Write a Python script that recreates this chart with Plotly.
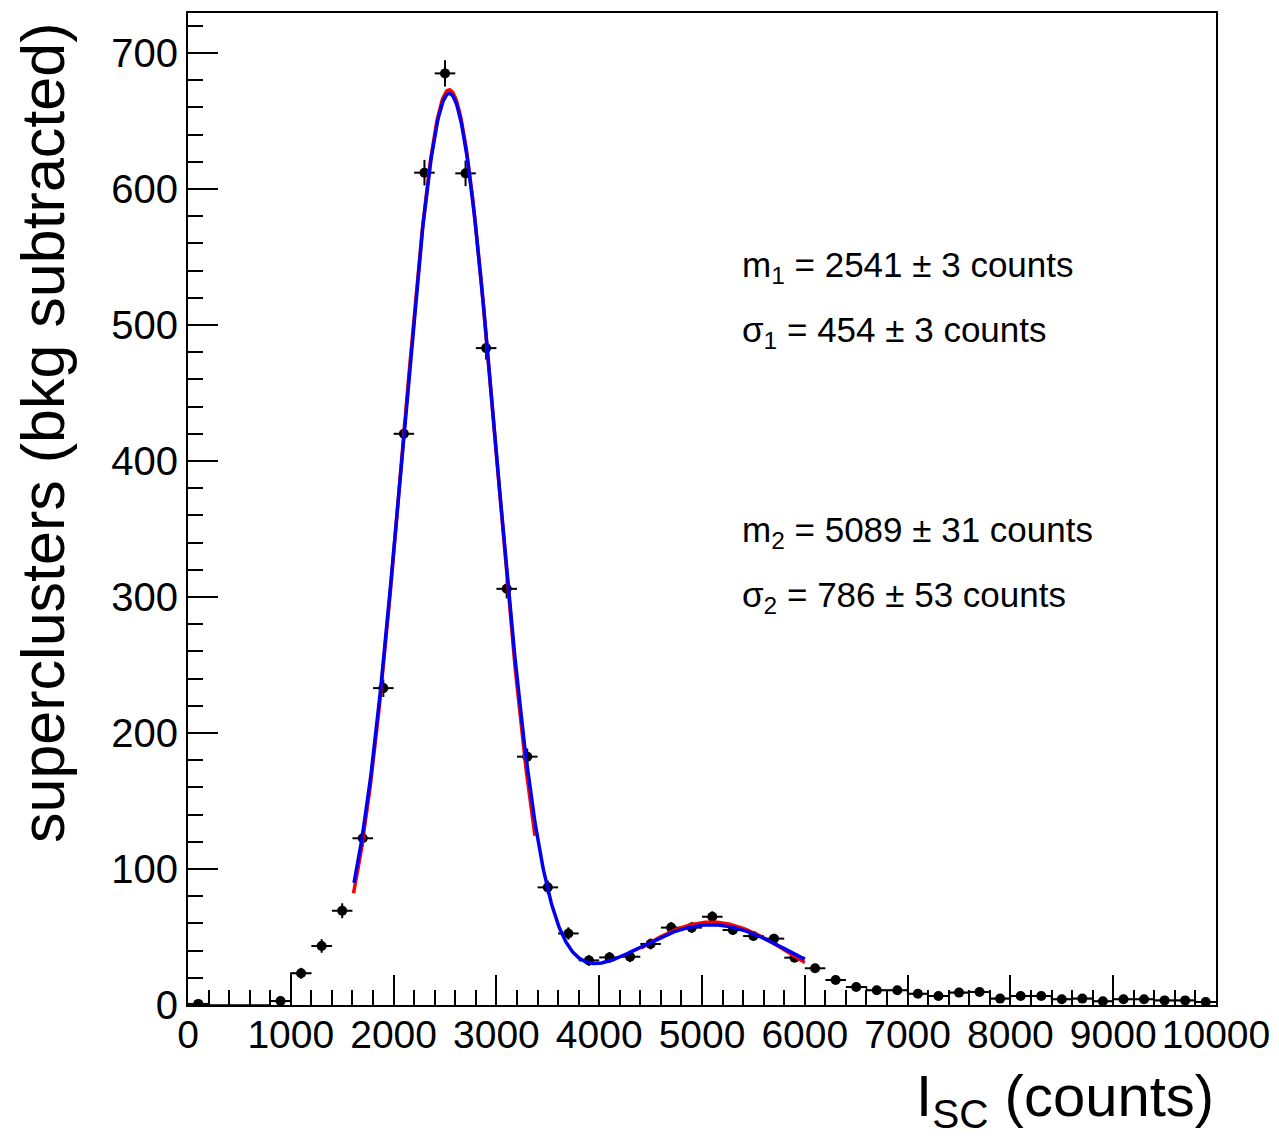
import numpy as np
import plotly.graph_objects as go

# ---- data (bin centres, bkg-subtracted counts, errors) ----
bin_centers = [100, 300, 500, 700, 900, 1100, 1300, 1500, 1700, 1900,
               2100, 2300, 2500, 2700, 2900, 3100, 3300, 3500, 3700, 3900,
               4100, 4300, 4500, 4700, 4900, 5100, 5300, 5500, 5700, 5900,
               6100, 6300, 6500, 6700, 6900, 7100, 7300, 7500, 7700, 7900,
               8100, 8300, 8500, 8700, 8900, 9100, 9300, 9500, 9700, 9900]
counts = [0.8, None, None, None, 2.9, 23.3, 43.4, 69.3, 122.6, 233.0,
          420.0, 612.0, 685.0, 611.5, 483.0, 306.0, 182.6, 86.5, 52.6, 32.8,
          35.0, 35.5, 44.9, 56.9, 56.9, 64.9, 55.1, 50.7, 48.8, 34.8,
          27.0, 18.4, 13.2, 10.8, 10.8, 8.3, 6.6, 9.1, 9.6, 4.7,
          6.6, 6.6, 4.2, 4.7, 2.7, 4.2, 4.2, 3.4, 3.4, 2.2]
count_err = [1.0, 0, 0, 0, 2.0, 4.0, 5.0, 5.5, 6.0, 6.5,
             8.0, 9.4, 9.6, 9.4, 8.5, 7.0, 6.0, 5.0, 4.5, 4.0,
             4.0, 4.0, 4.0, 4.0, 4.0, 4.0, 3.5, 3.5, 3.5, 3.0,
             3.0, 2.5, 2.5, 2.0, 2.0, 2.0, 2.0, 2.0, 2.0, 2.0,
             2.0, 2.0, 1.5, 1.5, 1.5, 1.5, 1.5, 1.5, 1.5, 1.5]
bin_half_width = 100

x_tick_vals = [0, 1000, 2000, 3000, 4000, 5000, 6000, 7000, 8000, 9000, 10000]
x_tick_text = ["0", "1000", "2000", "3000", "4000", "5000", "6000", "7000", "8000", "9000", "10000"]
y_tick_vals = [0, 100, 200, 300, 400, 500, 600, 700]
y_tick_text = ["0", "100", "200", "300", "400", "500", "600", "700"]

# fit parameters (single-gaussian fits in red, double-gaussian fit in blue)
red1 = dict(A=673.0, m=2541.0, s=454.0, lo=1610.0, hi=3375.0)
red2 = dict(A=61.0, m=5089.0, s=786.0, lo=4410.0, hi=6000.0)
blue = dict(A1=663.0, m1=2541.0, s1=454.0, A2=52.0, m2=5089.0, s2=786.0, c=7.0, lo=1615.0, hi=6000.0)

fit_labels = [
    ("m<sub>1</sub> = 2541 ± 3 counts", 5370, 543),
    ("σ<sub>1</sub> = 454 ± 3 counts", 5370, 495),
    ("m<sub>2</sub> = 5089 ± 31 counts", 5370, 348),
    ("σ<sub>2</sub> = 786 ± 53 counts", 5370, 300),
]

FONT = "Liberation Sans, Arial, Helvetica, sans-serif"


def gauss(x, A, m, s):
    return A * np.exp(-0.5 * ((x - m) / s) ** 2)


fig = go.Figure()

# histogram outline (only drawn in outer regions, as in the original)
def step_trace(xs_c, ys):
    ex, ey = [], []
    for xc, yv in zip(xs_c, ys):
        ex.append(xc - bin_half_width)
        ey.append(0 if yv is None else yv)
    ex.append(xs_c[-1] + bin_half_width)
    ey.append(ey[-1])
    return go.Scatter(x=ex, y=ey, mode="lines", line=dict(color="black", width=1.5, shape="hv"),
                      hoverinfo="skip", showlegend=False)

low_idx = [i for i, c in enumerate(bin_centers) if c <= 1100]
hi_idx = [i for i, c in enumerate(bin_centers) if c >= 6500]
fig.add_trace(step_trace([bin_centers[i] for i in low_idx], [counts[i] for i in low_idx]))
fig.add_trace(step_trace([bin_centers[i] for i in hi_idx], [counts[i] for i in hi_idx]))

# data points with error bars
fig.add_trace(go.Scatter(
    x=bin_centers, y=counts, mode="markers",
    marker=dict(color="black", size=10),
    error_y=dict(type="data", array=count_err, visible=True, color="black", thickness=2, width=0),
    error_x=dict(type="constant", value=bin_half_width, visible=True, color="black", thickness=2, width=0),
    showlegend=False,
))

# red fits
for p in (red1, red2):
    xr = np.linspace(p["lo"], p["hi"], 300)
    fig.add_trace(go.Scatter(x=xr, y=gauss(xr, p["A"], p["m"], p["s"]), mode="lines",
                             line=dict(color="#ff0000", width=3.5), showlegend=False))

# blue fit
xb = np.linspace(blue["lo"], blue["hi"], 600)
yb = gauss(xb, blue["A1"], blue["m1"], blue["s1"]) + gauss(xb, blue["A2"], blue["m2"], blue["s2"]) + blue["c"]
fig.add_trace(go.Scatter(x=xb, y=yb, mode="lines", line=dict(color="#0000ee", width=3.5), showlegend=False))

for txt, xv, yv in fit_labels:
    fig.add_annotation(x=xv, y=yv, xref="x", yref="y", text=txt, showarrow=False,
                       xanchor="left", yanchor="middle", font=dict(family=FONT, size=35, color="black"))

# axis titles as annotations (ROOT style: aligned to axis end)
fig.add_annotation(x=1.0, y=-0.056, xref="paper", yref="paper", xanchor="right", yanchor="top",
                   text="I<sub>SC</sub> (counts)", showarrow=False,
                   font=dict(family=FONT, size=58, color="black"))
fig.add_annotation(x=-0.176, y=0.992, xref="paper", yref="paper", xanchor="left", yanchor="top",
                   text="superclusters (bkg subtracted)", textangle=-90, showarrow=False,
                   font=dict(family=FONT, size=61, color="black"))

# page body adds an 8px offset; margins compensate so the frame sits at x 188-1216, y 13-1005
fig.update_layout(
    width=1279, height=1143,
    margin=dict(l=180, r=71, t=5, b=146),
    plot_bgcolor="white", paper_bgcolor="white",
    font=dict(family=FONT, color="black"),
)
fig.update_xaxes(
    range=[0, 10000], showgrid=False, zeroline=False, automargin=False,
    showline=True, linecolor="black", linewidth=2, mirror=True,
    ticks="inside", ticklen=30, tickwidth=2, tickcolor="black",
    tickvals=x_tick_vals, ticktext=x_tick_text, ticklabelstandoff=-6,
    tickfont=dict(family=FONT, size=39, color="black"),
    minor=dict(ticks="inside", ticklen=15, dtick=200, tickwidth=2, tickcolor="black", showgrid=False),
)
fig.update_yaxes(
    range=[0, 729.4], showgrid=False, zeroline=False, automargin=False,
    showline=True, linecolor="black", linewidth=2, mirror=True,
    ticks="inside", ticklen=30, tickwidth=2, tickcolor="black",
    tickvals=y_tick_vals, ticktext=y_tick_text,
    tickfont=dict(family=FONT, size=40, color="black"),
    minor=dict(ticks="inside", ticklen=15, dtick=20, tickwidth=2, tickcolor="black", showgrid=False),
)

fig.write_html("out.html")
